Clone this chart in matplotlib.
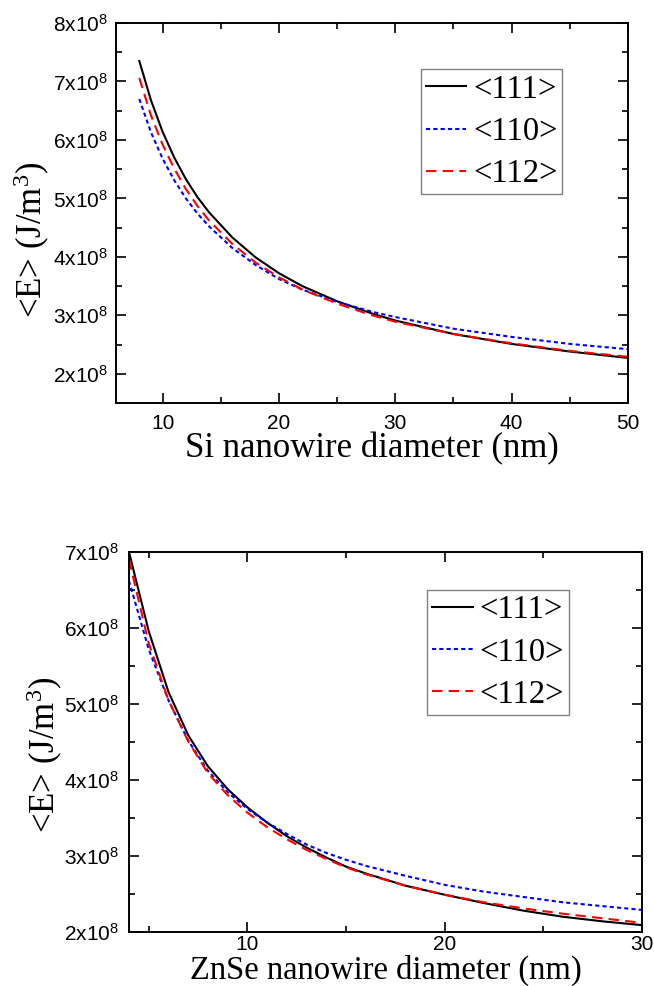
import matplotlib
matplotlib.use("Agg")
import matplotlib.pyplot as plt
from matplotlib.ticker import MultipleLocator, FuncFormatter

# ---------------- data ----------------
si_d = [8, 9, 10, 11, 12, 13, 14, 16, 18, 20, 22, 25, 28, 30, 35, 40, 45, 50]
si_111 = [7.35, 6.68, 6.14, 5.70, 5.33, 5.02, 4.76, 4.33, 3.99, 3.72, 3.50, 3.24,
          3.03, 2.91, 2.68, 2.51, 2.38, 2.27]
si_110 = [6.70, 6.13, 5.68, 5.31, 5.00, 4.74, 4.52, 4.15, 3.86, 3.62, 3.44, 3.23,
          3.06, 2.97, 2.77, 2.63, 2.51, 2.42]
si_112 = [7.06, 6.42, 5.92, 5.51, 5.16, 4.87, 4.62, 4.22, 3.90, 3.65, 3.44, 3.20,
          3.00, 2.89, 2.68, 2.52, 2.39, 2.29]

zn_d = [4, 5, 6, 7, 8, 9, 10, 11, 12, 13, 14, 15, 16, 18, 20, 22, 24, 26, 28, 30]
zn_111 = [7.00, 5.96, 5.16, 4.59, 4.18, 3.88, 3.64, 3.44, 3.26, 3.11, 2.98, 2.86,
          2.77, 2.61, 2.49, 2.38, 2.28, 2.20, 2.14, 2.09]
zn_110 = [6.62, 5.72, 5.05, 4.52, 4.12, 3.84, 3.62, 3.44, 3.29, 3.15, 3.04, 2.95,
          2.87, 2.74, 2.62, 2.53, 2.46, 2.39, 2.34, 2.29]
zn_112 = [6.90, 5.80, 5.05, 4.51, 4.09, 3.80, 3.57, 3.38, 3.22, 3.08, 2.96, 2.85,
          2.76, 2.61, 2.49, 2.39, 2.31, 2.24, 2.18, 2.12]
scale = 1e8

labels = ["<111>", "<110>", "<112>"]
colors = ["black", "blue", "red"]

SANS = "Liberation Sans"
SERIF = "Liberation Serif"

fig = plt.figure(figsize=(6.54, 9.86), dpi=100)

def sci_fmt(v, pos):
    m = int(round(v / scale))
    return r"%dx10$\mathregular{^{8}}$" % m


def style_axes(ax, xlim, ylim, xmaj, xmin, pad_x, pad_y):
    ax.set_xlim(*xlim)
    ax.set_ylim(*ylim)
    ax.xaxis.set_major_locator(MultipleLocator(xmaj))
    ax.xaxis.set_minor_locator(MultipleLocator(xmin))
    ax.yaxis.set_major_locator(MultipleLocator(1e8))
    ax.yaxis.set_minor_locator(MultipleLocator(0.5e8))
    ax.yaxis.set_major_formatter(FuncFormatter(sci_fmt))
    ax.tick_params(which="both", direction="in", top=True, right=True, width=1.2)
    ax.tick_params(which="major", length=7)
    ax.tick_params(which="minor", length=4)
    ax.tick_params(axis="x", pad=pad_x, labelsize=15)
    ax.tick_params(axis="y", pad=pad_y, labelsize=15)
    for lab in ax.get_xticklabels() + ax.get_yticklabels():
        lab.set_family(SANS)
    for sp in ax.spines.values():
        sp.set_linewidth(1.4)


def draw(ax, d, series):
    styles = [dict(linestyle="-"), dict(linestyle=(0, (2.0, 1.5))),
              dict(linestyle=(0, (5.0, 3.0)))]
    for vals, lab, c, st in zip(series, labels, colors, styles):
        ax.plot(d, [v * scale for v in vals], color=c, lw=1.5, label=lab, **st)


def add_legend(ax, anchor):
    leg = ax.legend(loc="upper left", bbox_to_anchor=anchor, borderaxespad=0,
                    prop={"family": SERIF, "size": 23.5}, handlelength=1.25,
                    handletextpad=0.2, labelspacing=0.36, borderpad=0.15,
                    fancybox=False, framealpha=1, edgecolor="#808080")
    leg.get_frame().set_linewidth(1.0)
    return leg


# ---------------- top: Si ----------------
ax1 = fig.add_axes([0.1774, 0.5913, 0.7829, 0.3854])
draw(ax1, si_d, [si_111, si_110, si_112])
style_axes(ax1, (6, 50), (1.5e8, 8e8), 10, 5, 8, 6)
ax1.set_xlabel("Si nanowire diameter (nm)", family=SERIF, fontsize=25, labelpad=-1)
ax1.set_ylabel(r"<E> (J/m$\mathregular{^3}$)", family=SERIF, fontsize=25)
ax1.yaxis.set_label_coords(-0.125, 0.43)
add_legend(ax1, (0.595, 0.878))

# ---------------- bottom: ZnSe ----------------
ax2 = fig.add_axes([0.1972, 0.0548, 0.7844, 0.3854])
draw(ax2, zn_d, [zn_111, zn_110, zn_112])
style_axes(ax2, (4, 30), (2e8, 7e8), 10, 5, 2, 7)
ax2.set_xlabel("ZnSe nanowire diameter (nm)", family=SERIF, fontsize=23.5, labelpad=0.5)
ax2.set_ylabel(r"<E> (J/m$\mathregular{^3}$)", family=SERIF, fontsize=25)
ax2.yaxis.set_label_coords(-0.125, 0.466)
add_legend(ax2, (0.5815, 0.90))

fig.savefig("out.png", dpi=100)
